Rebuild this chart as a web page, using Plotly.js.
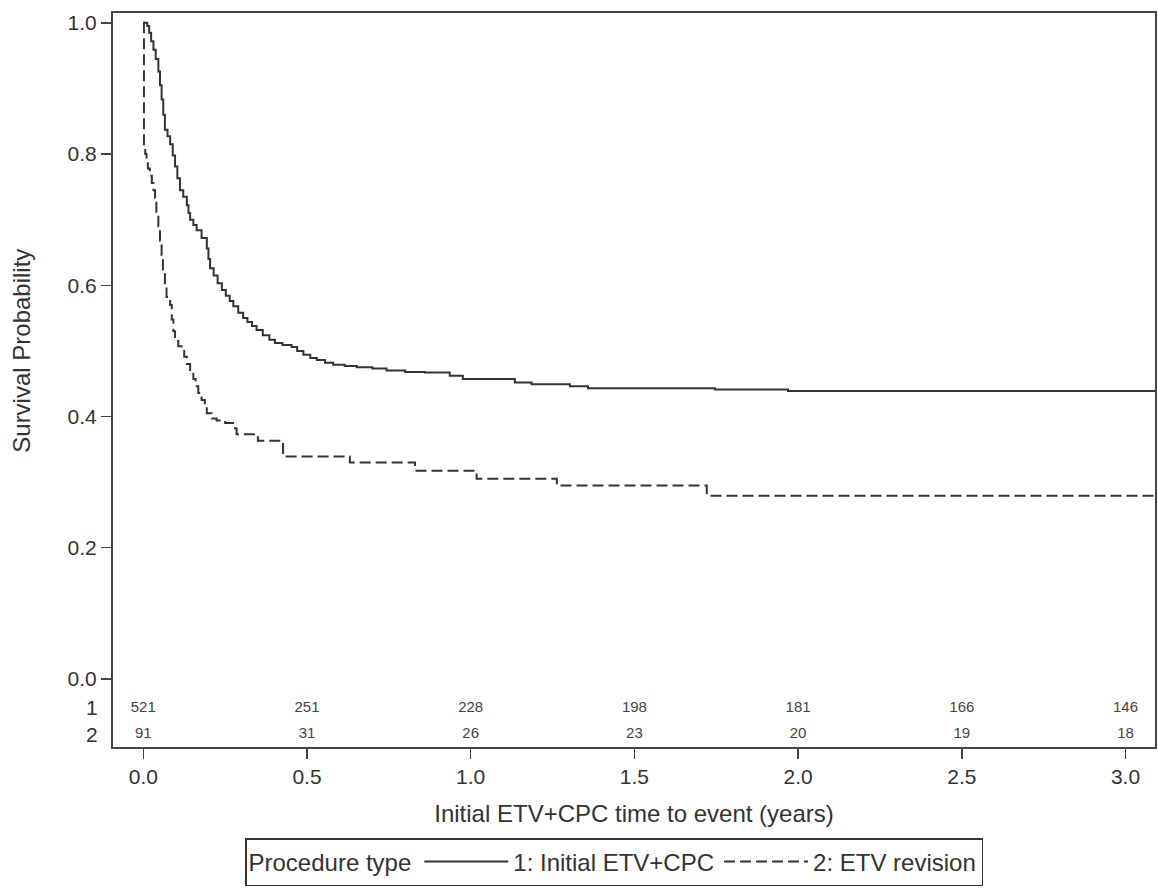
<!DOCTYPE html>
<html>
<head>
<meta charset="utf-8">
<script src="https://cdn.plot.ly/plotly-3.0.1.min.js"></script>
<style>html,body{margin:0;padding:0;background:#fff;}#chart{width:1158px;height:888px;}</style>
</head>
<body>
<div id="chart"></div>
<script>
// Group 1: Initial ETV+CPC (Kaplan-Meier step points, years / survival)
const timeInitial = [0, 0.012, 0.018, 0.024, 0.031, 0.038, 0.046, 0.051, 0.056, 0.061, 0.066, 0.074, 0.082, 0.090, 0.097, 0.104, 0.112, 0.122, 0.133, 0.138, 0.143, 0.153, 0.163, 0.178, 0.194, 0.199, 0.204, 0.215, 0.227, 0.240, 0.252, 0.264, 0.275, 0.290, 0.305, 0.318, 0.332, 0.346, 0.365, 0.385, 0.402, 0.425, 0.453, 0.470, 0.489, 0.510, 0.530, 0.555, 0.580, 0.615, 0.652, 0.700, 0.743, 0.800, 0.860, 0.936, 0.976, 1.135, 1.186, 1.303, 1.358, 1.746, 1.969, 3.09];
const survInitial = [1.0, 0.995, 0.985, 0.972, 0.959, 0.945, 0.926, 0.905, 0.883, 0.860, 0.837, 0.827, 0.815, 0.798, 0.781, 0.763, 0.745, 0.735, 0.722, 0.710, 0.700, 0.692, 0.684, 0.672, 0.656, 0.640, 0.626, 0.615, 0.603, 0.593, 0.584, 0.576, 0.568, 0.558, 0.550, 0.544, 0.538, 0.532, 0.524, 0.517, 0.512, 0.509, 0.506, 0.500, 0.494, 0.489, 0.486, 0.482, 0.479, 0.477, 0.475, 0.473, 0.470, 0.468, 0.467, 0.462, 0.457, 0.452, 0.449, 0.446, 0.443, 0.441, 0.439, 0.439];

// Group 2: ETV revision
const timeRevision = [0, 0.002, 0.006, 0.010, 0.014, 0.020, 0.026, 0.031, 0.036, 0.040, 0.046, 0.051, 0.056, 0.060, 0.066, 0.071, 0.082, 0.087, 0.092, 0.097, 0.107, 0.117, 0.125, 0.133, 0.143, 0.153, 0.160, 0.168, 0.178, 0.188, 0.194, 0.209, 0.224, 0.250, 0.280, 0.285, 0.350, 0.427, 0.631, 0.830, 1.018, 1.263, 1.721, 3.09];
const survRevision = [1.0, 0.811, 0.800, 0.789, 0.778, 0.767, 0.756, 0.745, 0.733, 0.712, 0.690, 0.668, 0.646, 0.624, 0.595, 0.582, 0.570, 0.548, 0.530, 0.515, 0.507, 0.504, 0.491, 0.480, 0.468, 0.457, 0.446, 0.436, 0.425, 0.415, 0.405, 0.397, 0.394, 0.390, 0.382, 0.373, 0.363, 0.339, 0.330, 0.3175, 0.305, 0.2947, 0.2794, 0.2794];

// Numbers at risk
const riskTimes = [0.0, 0.5, 1.0, 1.5, 2.0, 2.5, 3.0];
const atRiskInitial = [521, 251, 228, 198, 181, 166, 146];
const atRiskRevision = [91, 31, 26, 23, 20, 19, 18];
const riskRowLabels = ['1', '2'];
const riskRowY = [-0.044, -0.084];

const yTicks = [0.0, 0.2, 0.4, 0.6, 0.8, 1.0];
const xTicks = [0.0, 0.5, 1.0, 1.5, 2.0, 2.5, 3.0];

const seriesNames = ['1: Initial ETV+CPC', '2: ETV revision'];

const FONT = 'Arial, "Liberation Sans", sans-serif';
const INK = '#333333';

const traces = [
  {
    x: timeInitial, y: survInitial, type: 'scatter', mode: 'lines',
    line: {shape: 'hv', color: INK, width: 2, dash: 'solid'},
    name: seriesNames[0], showlegend: true
  },
  {
    x: timeRevision, y: survRevision, type: 'scatter', mode: 'lines',
    line: {shape: 'hv', color: INK, width: 2, dash: '11px,5px'},
    name: seriesNames[1], showlegend: true
  },
  {
    x: riskTimes, y: riskTimes.map(() => riskRowY[0]), type: 'scatter', mode: 'text',
    text: atRiskInitial.map(String), textposition: 'middle center',
    textfont: {family: FONT, size: 15, color: '#444'}, showlegend: false, cliponaxis: false
  },
  {
    x: riskTimes, y: riskTimes.map(() => riskRowY[1]), type: 'scatter', mode: 'text',
    text: atRiskRevision.map(String), textposition: 'middle center',
    textfont: {family: FONT, size: 15, color: '#444'}, showlegend: false, cliponaxis: false
  }
];

const annotations = riskRowLabels.map((t, i) => ({
  text: t, xref: 'paper', yref: 'y', x: -0.012, y: riskRowY[i],
  xanchor: 'right', yanchor: 'middle', showarrow: false,
  font: {family: FONT, size: 21, color: INK}
}));
annotations.push({
  text: 'Survival Probability', xref: 'paper', yref: 'y', x: -0.0875, y: 0.5,
  xanchor: 'center', yanchor: 'middle', textangle: -90, showarrow: false,
  font: {family: FONT, size: 24, color: INK}
});

const layout = {
  width: 1158, height: 888,
  margin: {l: 113, r: 3, t: 13, b: 141, autoexpand: false},
  paper_bgcolor: '#ffffff', plot_bgcolor: '#ffffff',
  font: {family: FONT, color: INK},
  showlegend: true,
  hovermode: false,
  xaxis: {
    range: [-0.0925, 3.09], tickvals: xTicks, ticktext: xTicks.map(v => v.toFixed(1)),
    ticks: 'outside', ticklen: 10, tickwidth: 1.5, tickcolor: '#444',
    showline: true, linecolor: '#444', linewidth: 2, mirror: true,
    showgrid: false, zeroline: false,
    tickfont: {family: FONT, size: 21, color: INK},
    title: {text: 'Initial ETV+CPC time to event (years)', font: {family: FONT, size: 24, color: INK}, standoff: 18}
  },
  yaxis: {
    range: [-0.1037, 1.015], tickvals: yTicks, ticktext: yTicks.map(v => v.toFixed(1)),
    ticks: 'outside', ticklen: 10, tickwidth: 1.5, tickcolor: '#444',
    showline: true, linecolor: '#444', linewidth: 2, mirror: true,
    showgrid: false, zeroline: false,
    tickfont: {family: FONT, size: 21, color: INK}
  },
  legend: {
    orientation: 'h', x: 0.1267, xanchor: 'left', y: -0.1894, yanchor: 'bottom',
    bordercolor: '#333', borderwidth: 1.5, bgcolor: '#fff',
    font: {family: FONT, size: 24, color: INK},
    title: {text: 'Procedure type', font: {family: FONT, size: 24, color: INK}, side: 'left'},
    itemwidth: 84, tracegroupgap: 0
  },
  annotations: annotations
};

Plotly.newPlot('chart', traces, layout, {displayModeBar: false, staticPlot: true});
</script>
</body>
</html>
